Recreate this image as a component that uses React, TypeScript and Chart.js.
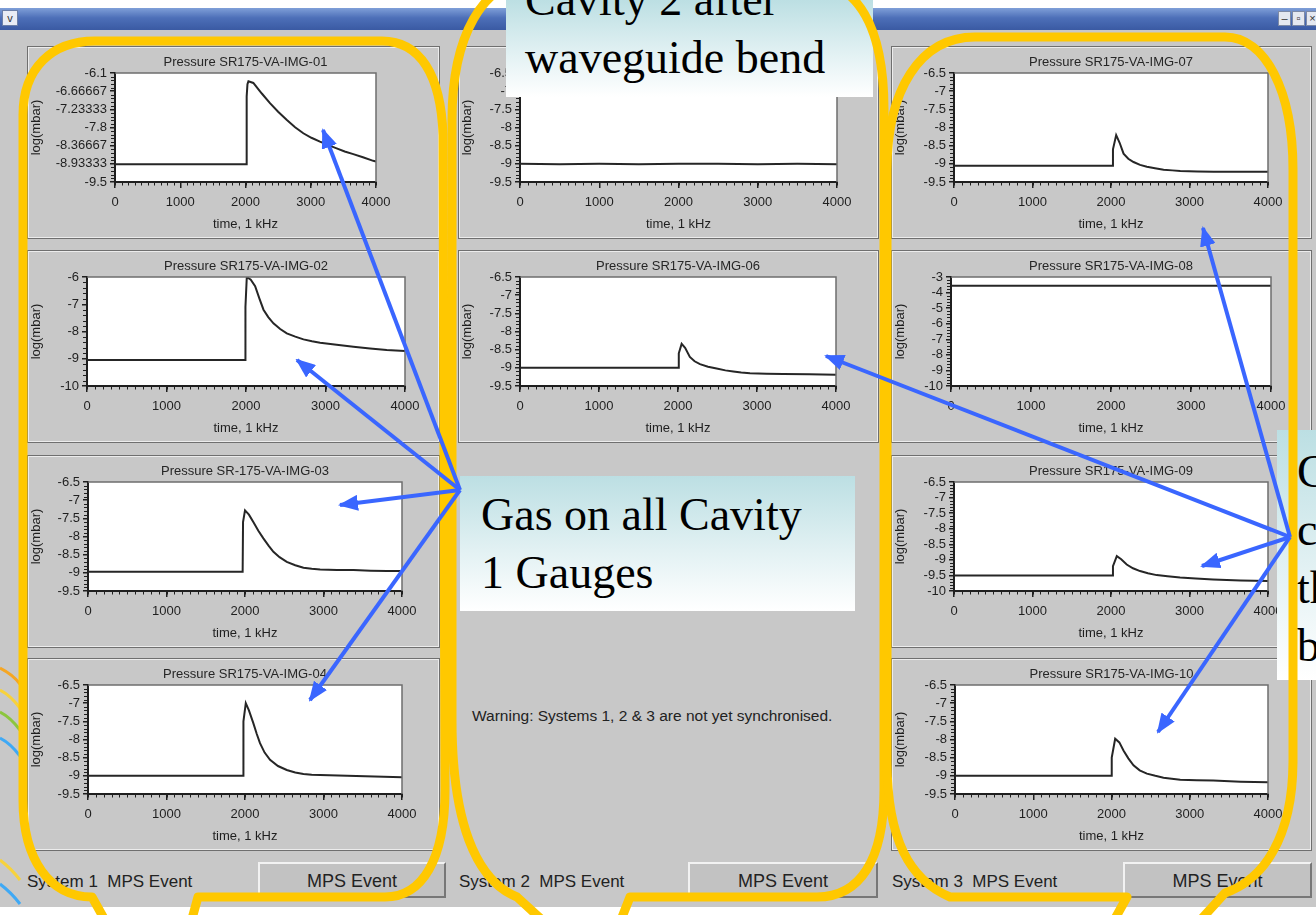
import React, { useEffect, useRef } from 'react';
import { Chart, registerables } from 'chart.js';

Chart.register(...registerables);
Chart.defaults.font.family = '"Liberation Sans", Arial, sans-serif';

// ---- shared axis settings ----
const TIME_TICKS = [0, 1000, 2000, 3000, 4000];
const TIME_LABELS = ['0', '1000', '2000', '3000', '4000'];
const TIME_MINOR_STEP = 100;
const Y_MINOR_DIV = 5;

const yTicks01 = [-9.5, -8.93333, -8.36667, -7.8, -7.23333, -6.66667, -6.1];
const yLabels01 = ['-9.5', '-8.93333', '-8.36667', '-7.8', '-7.23333', '-6.66667', '-6.1'];
const yTicks02 = [-10, -9, -8, -7, -6];
const yLabels02 = ['-10', '-9', '-8', '-7', '-6'];
const yTicksStd = [-9.5, -9, -8.5, -8, -7.5, -7, -6.5];
const yLabelsStd = ['-9.5', '-9', '-8.5', '-8', '-7.5', '-7', '-6.5'];
const yTicks08 = [-10, -9, -8, -7, -6, -5, -4, -3];
const yLabels08 = ['-10', '-9', '-8', '-7', '-6', '-5', '-4', '-3'];
const yTicks09 = [-10, -9.5, -9, -8.5, -8, -7.5, -7, -6.5];
const yLabels09 = ['-10', '-9.5', '-9', '-8.5', '-8', '-7.5', '-7', '-6.5'];

// ---- gauge traces: time (samples at 1 kHz) and log10 pressure (mbar) ----
const t01 = [0, 2015, 2018, 2030, 2045, 2120, 2250, 2375, 2500, 2630, 2760, 2886, 3010, 3141, 3270, 3397, 3520, 3652, 3800, 3958, 4000];
const v01 = [-8.95, -8.95, -6.83, -6.45, -6.36, -6.41, -6.74, -7.04, -7.31, -7.56, -7.79, -7.98, -8.12, -8.24, -8.35, -8.45, -8.55, -8.63, -8.73, -8.84, -8.86];

const t02 = [0, 1990, 1993, 2010, 2060, 2115, 2170, 2220, 2280, 2345, 2430, 2513, 2620, 2723, 2830, 2932, 3140, 3351, 3560, 3770, 4000];
const v02 = [-9.05, -9.05, -7.1, -6.0, -6.1, -6.34, -6.8, -7.2, -7.47, -7.7, -7.91, -8.07, -8.19, -8.29, -8.36, -8.41, -8.49, -8.56, -8.62, -8.68, -8.72];

const t03 = [0, 1970, 1975, 2000, 2050, 2106, 2170, 2234, 2300, 2362, 2440, 2532, 2640, 2745, 2850, 2957, 3170, 3383, 3600, 3809, 3980];
const v03 = [-8.97, -8.97, -7.6, -7.28, -7.4, -7.6, -7.84, -8.05, -8.25, -8.42, -8.57, -8.7, -8.79, -8.86, -8.89, -8.91, -8.92, -8.92, -8.94, -8.95, -8.95];

const t04 = [0, 1975, 1980, 2010, 2050, 2106, 2150, 2191, 2250, 2319, 2420, 2532, 2640, 2745, 2850, 2957, 3300, 3650, 4000];
const v04 = [-9.0, -9.0, -7.5, -7.0, -7.2, -7.55, -7.85, -8.1, -8.36, -8.56, -8.73, -8.84, -8.91, -8.95, -8.97, -8.98, -9.0, -9.02, -9.04];

const t05 = [0, 500, 1000, 1500, 2000, 2500, 3000, 3500, 4000];
const v05 = [-9.0, -9.01, -9.0, -9.01, -9.0, -9.0, -9.01, -9.0, -9.01];

const t06 = [0, 2000, 2010, 2046, 2090, 2150, 2210, 2278, 2380, 2489, 2600, 2700, 2800, 2911, 3120, 3333, 3660, 4000];
const v06 = [-9.0, -9.0, -8.6, -8.34, -8.45, -8.7, -8.82, -8.9, -8.97, -9.02, -9.07, -9.1, -9.13, -9.15, -9.16, -9.17, -9.18, -9.19];

const t07 = [0, 2019, 2025, 2066, 2110, 2160, 2220, 2287, 2370, 2457, 2560, 2670, 2780, 2882, 3100, 3307, 3650, 4000];
const v07 = [-9.05, -9.05, -8.6, -8.21, -8.42, -8.72, -8.86, -8.95, -9.03, -9.08, -9.12, -9.16, -9.18, -9.2, -9.21, -9.22, -9.22, -9.22];

const t08 = [0, 1000, 2000, 3000, 4000];
const v08 = [-3.56, -3.56, -3.56, -3.56, -3.56];

const t09 = [0, 2018, 2025, 2074, 2130, 2200, 2280, 2370, 2470, 2582, 2720, 2880, 3080, 3300, 3650, 4000];
const v09 = [-9.5, -9.5, -9.2, -8.88, -8.98, -9.15, -9.27, -9.36, -9.43, -9.49, -9.53, -9.57, -9.6, -9.63, -9.66, -9.68];

const t10 = [0, 1996, 2003, 2047, 2100, 2153, 2215, 2281, 2360, 2452, 2560, 2665, 2770, 2878, 3090, 3300, 3650, 4000];
const v10 = [-9.0, -9.0, -8.5, -7.98, -8.08, -8.3, -8.52, -8.71, -8.85, -8.94, -9.0, -9.05, -9.08, -9.11, -9.12, -9.13, -9.16, -9.18];

type Channel = { title: string; t: number[]; v: number[]; yTicks: number[]; yLabels: string[] };

const channels: Channel[] = [
  { title: 'Pressure SR175-VA-IMG-01', t: t01, v: v01, yTicks: yTicks01, yLabels: yLabels01 },
  { title: 'Pressure SR175-VA-IMG-02', t: t02, v: v02, yTicks: yTicks02, yLabels: yLabels02 },
  { title: 'Pressure SR-175-VA-IMG-03', t: t03, v: v03, yTicks: yTicksStd, yLabels: yLabelsStd },
  { title: 'Pressure SR175-VA-IMG-04', t: t04, v: v04, yTicks: yTicksStd, yLabels: yLabelsStd },
  { title: 'Pressure SR175-VA-IMG-05', t: t05, v: v05, yTicks: yTicksStd, yLabels: yLabelsStd },
  { title: 'Pressure SR175-VA-IMG-06', t: t06, v: v06, yTicks: yTicksStd, yLabels: yLabelsStd },
  { title: 'Pressure SR175-VA-IMG-07', t: t07, v: v07, yTicks: yTicksStd, yLabels: yLabelsStd },
  { title: 'Pressure SR175-VA-IMG-08', t: t08, v: v08, yTicks: yTicks08, yLabels: yLabels08 },
  { title: 'Pressure SR175-VA-IMG-09', t: t09, v: v09, yTicks: yTicks09, yLabels: yLabels09 },
  { title: 'Pressure SR175-VA-IMG-10', t: t10, v: v10, yTicks: yTicksStd, yLabels: yLabelsStd },
];

// ---- panel layout (window pixels) ----
const TITLE_H = 26;
const X_AXIS_H = 56;
const PANELS = [
  { ch: 0, x: 27, y: 46, w: 413, h: 193, axisW: 87, padR: 63 },
  { ch: 1, x: 27, y: 250, w: 413, h: 193, axisW: 59, padR: 34 },
  { ch: 2, x: 27, y: 455, w: 413, h: 193, axisW: 60, padR: 37 },
  { ch: 3, x: 27, y: 658, w: 413, h: 193, axisW: 60, padR: 37 },
  { ch: 4, x: 458, y: 46, w: 421, h: 193, axisW: 61, padR: 41 },
  { ch: 5, x: 458, y: 250, w: 421, h: 193, axisW: 61, padR: 42 },
  { ch: 6, x: 891, y: 46, w: 421, h: 193, axisW: 62, padR: 43 },
  { ch: 7, x: 891, y: 250, w: 421, h: 193, axisW: 59, padR: 40 },
  { ch: 8, x: 891, y: 455, w: 421, h: 193, axisW: 62, padR: 43 },
  { ch: 9, x: 891, y: 658, w: 421, h: 193, axisW: 63, padR: 43 },
];

const INK = '#1f1f1f';

const decorPlugin = {
  id: 'decor',
  beforeDraw(chart: any) {
    const { ctx, chartArea: a } = chart;
    ctx.save();
    ctx.fillStyle = '#ffffff';
    ctx.fillRect(a.left, a.top, a.right - a.left, a.bottom - a.top);
    ctx.restore();
  },
  afterDraw(chart: any, _args: any, opts: any) {
    const { ctx, chartArea: a } = chart;
    const xs = chart.scales.x;
    const ys = chart.scales.y;
    ctx.save();
    ctx.strokeStyle = '#6e6e6e';
    ctx.lineWidth = 1.5;
    ctx.beginPath();
    ctx.moveTo(a.left, a.top);
    ctx.lineTo(a.right, a.top);
    ctx.lineTo(a.right, a.bottom);
    ctx.stroke();
    ctx.strokeStyle = INK;
    ctx.lineWidth = 1;
    ctx.beginPath();
    for (let v = xs.min; v <= xs.max; v += TIME_MINOR_STEP) {
      const px = Math.round(xs.getPixelForValue(v)) + 0.5;
      ctx.moveTo(px, a.bottom);
      ctx.lineTo(px, a.bottom + 3.5);
    }
    const yt: number[] = opts.yTicks;
    for (let i = 0; i < yt.length - 1; i++) {
      const step = (yt[i + 1] - yt[i]) / Y_MINOR_DIV;
      for (let k = 1; k < Y_MINOR_DIV; k++) {
        const py = Math.round(ys.getPixelForValue(yt[i] + k * step)) + 0.5;
        ctx.moveTo(a.left - 4, py);
        ctx.lineTo(a.left, py);
      }
    }
    ctx.stroke();
    ctx.restore();
  },
};

function makeConfig(ch: Channel, axisW: number, padR: number): any {
  const yMin = ch.yTicks[0];
  const yMax = ch.yTicks[ch.yTicks.length - 1];
  return {
    type: 'line',
    data: {
      datasets: [
        {
          data: ch.t.map((x, i) => ({ x, y: ch.v[i] })),
          borderColor: '#262626',
          borderWidth: 2,
          pointRadius: 0,
          tension: 0,
          fill: false,
        },
      ],
    },
    options: {
      animation: false,
      responsive: false,
      events: [],
      layout: { padding: { left: 0, right: padR, top: 0, bottom: 0 } },
      plugins: {
        legend: { display: false },
        tooltip: { enabled: false },
        title: {
          display: true,
          text: ch.title,
          fullSize: false,
          color: '#262626',
          font: { size: 13, weight: 'normal', lineHeight: 1.2 },
          padding: { top: 8, bottom: TITLE_H - 8 - 15.6 },
        },
        decor: { yTicks: ch.yTicks },
      },
      scales: {
        x: {
          type: 'linear',
          min: 0,
          max: 4000,
          afterBuildTicks: (s: any) => {
            s.ticks = TIME_TICKS.map((value) => ({ value }));
          },
          afterFit: (s: any) => {
            s.height = X_AXIS_H;
          },
          ticks: {
            autoSkip: false,
            maxRotation: 0,
            padding: 7,
            color: INK,
            font: { size: 13 },
            callback: (_v: any, i: number) => TIME_LABELS[i],
          },
          grid: { drawOnChartArea: false, drawTicks: true, tickLength: 6, color: INK, lineWidth: 1.5 },
          border: { display: true, color: INK, width: 2 },
          title: {
            display: true,
            text: 'time, 1 kHz',
            color: INK,
            font: { size: 13 },
            padding: { top: 0, bottom: 6 },
          },
        },
        y: {
          type: 'linear',
          min: yMin,
          max: yMax,
          afterBuildTicks: (s: any) => {
            s.ticks = ch.yTicks.map((value) => ({ value }));
          },
          afterFit: (s: any) => {
            s.width = axisW;
          },
          ticks: {
            autoSkip: false,
            padding: 3,
            color: INK,
            font: { size: 13 },
            callback: (_v: any, i: number) => ch.yLabels[i],
          },
          grid: { drawOnChartArea: false, drawTicks: true, tickLength: 5, color: INK, lineWidth: 1.5 },
          border: { display: true, color: INK, width: 2 },
          title: {
            display: true,
            text: 'log(mbar)',
            color: INK,
            font: { size: 13 },
            padding: { top: 1, bottom: 0 },
          },
        },
      },
    },
    plugins: [decorPlugin],
  };
}

function GaugePanel({ p }: { p: (typeof PANELS)[number] }) {
  const ref = useRef<HTMLCanvasElement>(null);
  useEffect(() => {
    const chart = new Chart(ref.current as HTMLCanvasElement, makeConfig(channels[p.ch], p.axisW, p.padR));
    return () => chart.destroy();
  }, [p]);
  return (
    <div
      style={{
        position: 'absolute',
        left: p.x,
        top: p.y,
        width: p.w,
        height: p.h,
        boxSizing: 'border-box',
        border: '1px solid #6f6f6f',
        boxShadow: 'inset 0 0 0 1px #ececec',
      }}
    >
      <canvas ref={ref} width={p.w - 2} height={p.h - 2} style={{ display: 'block' }} />
    </div>
  );
}

const SYSTEMS = [
  { label: 'System 1  MPS Event', x: 27, btnX: 258, btnW: 188 },
  { label: 'System 2  MPS Event', x: 459, btnX: 688, btnW: 190 },
  { label: 'System 3  MPS Event', x: 892, btnX: 1123, btnW: 189 },
];

const CALLOUT_BG = 'linear-gradient(180deg, #bcdfe3 0%, #e2f1f3 55%, #ffffff 100%)';
const SERIF = '"Liberation Serif", "Times New Roman", serif';

function Callout({ x, y, w, h, textTop, textLeft, lines }: { x: number; y: number; w: number; h: number; textTop: number; textLeft: number; lines: string[] }) {
  return (
    <div style={{ position: 'absolute', left: x, top: y, width: w, height: h, background: CALLOUT_BG, overflow: 'hidden' }}>
      <div
        style={{
          position: 'absolute',
          left: textLeft,
          top: textTop,
          fontFamily: SERIF,
          fontSize: 46,
          lineHeight: '58px',
          color: '#000',
          whiteSpace: 'pre',
        }}
      >
        {lines.map((l, i) => (
          <div key={i}>{l}</div>
        ))}
      </div>
    </div>
  );
}

// Highlight outlines (speech-bubble shapes) and pointer arrows
const YELLOW = '#ffc800';
const BLUE = '#3a66ff';
const OUTLINES = [
  'M 92 897 C 50 897 23 860 23 800 L 23 115 C 23 68 52 41 95 41 L 382 41 C 420 41 441 75 443 135 L 445 790 C 445 860 422 897 385 897 L 198 897 L 163 1024 Z',
  'M 517 897 C 475 880 452 820 452 720 L 452 120 C 452 40 480 -22 540 -22 L 800 -22 C 860 -22 884 30 884 110 L 884 790 C 884 860 860 897 817 897 L 630 897 L 600 973 Z',
  'M 1127 897 L 950 897 C 910 880 887 840 887 760 L 887 170 C 887 90 920 37 975 37 L 1225 37 C 1265 37 1293 90 1293 170 L 1293 760 C 1293 840 1262 880 1225 893 L 979 1164 Z',
];
const ARROWS = [
  [460, 490, 323, 130],
  [460, 490, 297, 360],
  [460, 490, 340, 505],
  [460, 490, 310, 700],
  [1290, 537, 1203, 228],
  [1290, 537, 826, 356],
  [1290, 537, 1202, 566],
  [1290, 537, 1158, 732],
];
// decorative ribbon strokes at the lower-left page edge
const RIBBONS = [
  { d: 'M 0 668 C 8 672 14 676 20 684', c: '#f5a623' },
  { d: 'M 0 690 C 8 694 14 700 20 708', c: '#f7d23c' },
  { d: 'M 0 712 C 8 716 14 722 20 730', c: '#8cc63e' },
  { d: 'M 0 738 C 8 742 14 748 20 756', c: '#3fa9f5' },
  { d: 'M 0 860 C 8 866 14 872 20 880', c: '#f7d23c' },
  { d: 'M 0 884 C 8 890 14 896 20 904', c: '#3fa9f5' },
];

export default function App() {
  return (
    <div
      style={{
        position: 'fixed',
        left: 0,
        top: 0,
        width: 1316,
        height: 915,
        overflow: 'hidden',
        background: '#ffffff',
        fontFamily: '"Liberation Sans", Arial, sans-serif',
      }}
    >
      {/* window title bar */}
      <div
        style={{
          position: 'absolute',
          left: 0,
          top: 8,
          width: 1316,
          height: 22,
          background: 'linear-gradient(180deg, #7f9fd8 0%, #4d6fb8 45%, #3a5aa3 100%)',
        }}
      />
      <div
        style={{
          position: 'absolute',
          left: 2,
          top: 10,
          width: 16,
          height: 16,
          background: '#e8ecf5',
          border: '1px solid #6b7fa8',
          boxSizing: 'border-box',
          fontSize: 11,
          lineHeight: '14px',
          textAlign: 'center',
          color: '#333',
        }}
      >
        v
      </div>
      {['–', '▫', '×'].map((s, i) => (
        <div
          key={i}
          style={{
            position: 'absolute',
            left: 1278 + i * 14,
            top: 11,
            width: 13,
            height: 15,
            background: '#e4e8f0',
            border: '1px solid #7d8aa5',
            boxSizing: 'border-box',
            fontSize: 11,
            lineHeight: '13px',
            textAlign: 'center',
            color: '#333',
          }}
        >
          {s}
        </div>
      ))}

      {/* window body */}
      <div style={{ position: 'absolute', left: 0, top: 30, width: 1316, height: 877, background: '#c8c8c8' }} />

      {PANELS.map((p) => (
        <GaugePanel key={p.ch} p={p} />
      ))}

      <div style={{ position: 'absolute', left: 472, top: 707, fontSize: 15.5, color: '#222', whiteSpace: 'pre' }}>
        Warning: Systems 1, 2 &amp; 3 are not yet synchronised.
      </div>

      {SYSTEMS.map((s, i) => (
        <React.Fragment key={i}>
          <div style={{ position: 'absolute', left: s.x, top: 872, fontSize: 17, color: '#222', whiteSpace: 'pre' }}>{s.label}</div>
          <div
            style={{
              position: 'absolute',
              left: s.btnX,
              top: 862,
              width: s.btnW,
              height: 36,
              boxSizing: 'border-box',
              background: '#c2c2c2',
              borderTop: '2px solid #f2f2f2',
              borderLeft: '2px solid #f2f2f2',
              borderRight: '2px solid #777',
              borderBottom: '2px solid #777',
              fontSize: 18,
              lineHeight: '34px',
              textAlign: 'center',
              color: '#222',
            }}
          >
            MPS Event
          </div>
        </React.Fragment>
      ))}

      <Callout x={506} y={0} w={367} h={97} textLeft={19} textTop={-29} lines={['Cavity 2 after', 'waveguide bend']} />
      <Callout x={460} y={476} w={395} h={135} textLeft={21} textTop={10} lines={['Gas on all Cavity', '1 Gauges']} />
      <Callout x={1277} y={430} w={60} h={250} textLeft={20} textTop={13} lines={['Cavity 3 sees', 'coupling', 'through the', 'bend']} />

      <svg width={1316} height={915} style={{ position: 'absolute', left: 0, top: 0, pointerEvents: 'none' }}>
        <defs>
          <marker id="head" markerUnits="userSpaceOnUse" markerWidth={20} markerHeight={16} refX={18} refY={8} orient="auto">
            <path d="M0,0 L20,8 L0,16 Z" fill={BLUE} />
          </marker>
        </defs>
        {RIBBONS.map((r, i) => (
          <path key={'r' + i} d={r.d} fill="none" stroke={r.c} strokeWidth={3} />
        ))}
        {OUTLINES.map((d, i) => (
          <path key={i} d={d} fill="none" stroke={YELLOW} strokeWidth={9} strokeLinejoin="round" />
        ))}
        {ARROWS.map(([x1, y1, x2, y2], i) => (
          <line key={i} x1={x1} y1={y1} x2={x2} y2={y2} stroke={BLUE} strokeWidth={4} markerEnd="url(#head)" />
        ))}
      </svg>
    </div>
  );
}
